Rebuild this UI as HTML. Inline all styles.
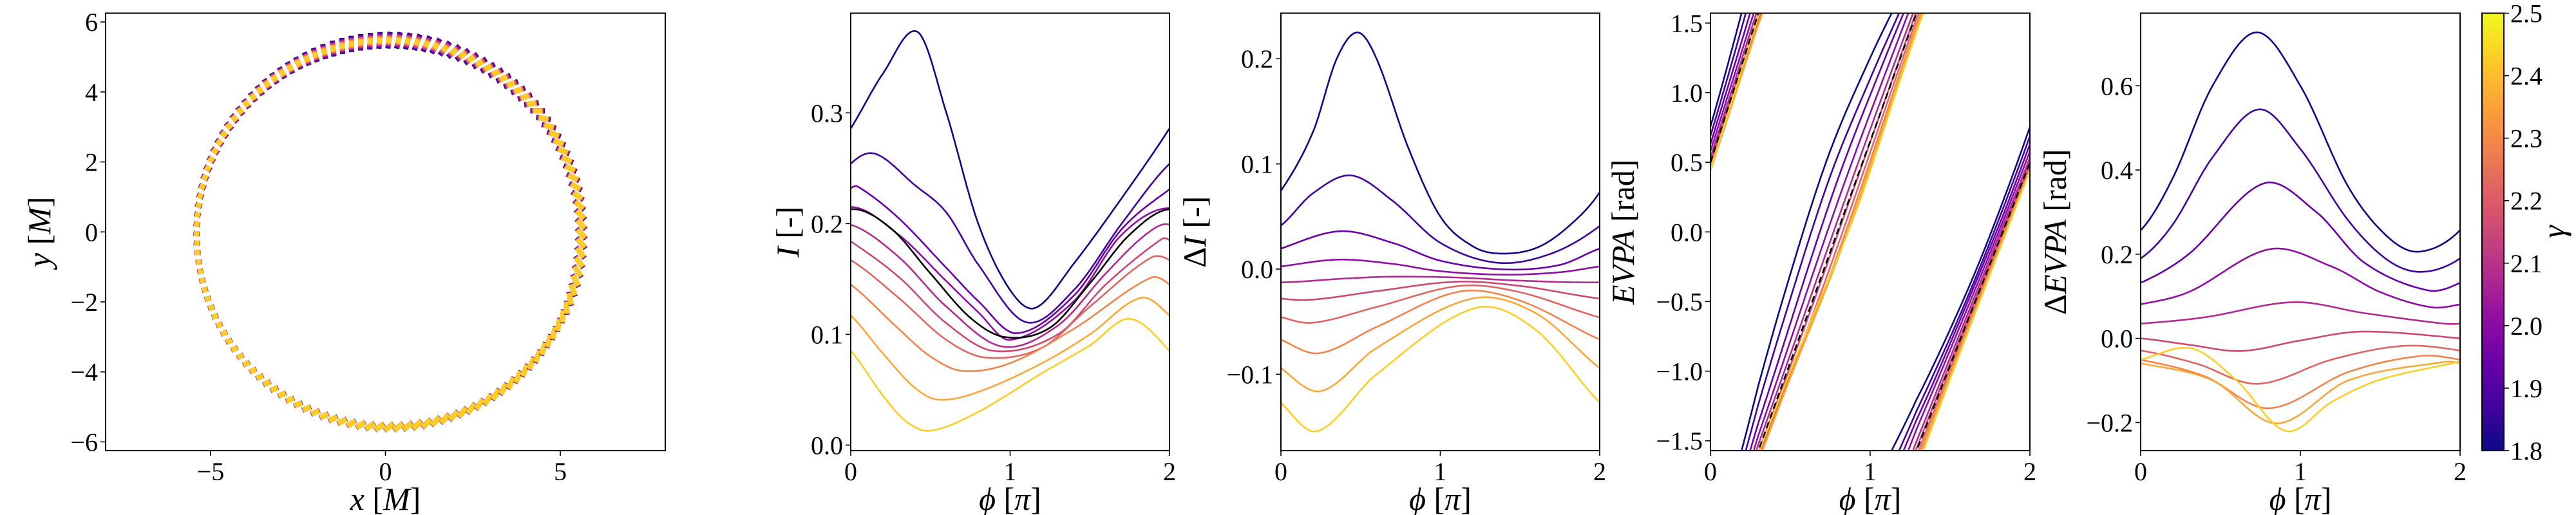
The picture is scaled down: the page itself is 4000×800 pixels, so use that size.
<!DOCTYPE html>
<html><head><meta charset="utf-8"><style>
html,body{margin:0;padding:0;background:#fff;}
svg{display:block;}
text{font-family:"Liberation Serif",serif;fill:#000;}
</style></head>
<body>
<svg id="fig" width="4000" height="800" viewBox="0 0 4000 800" xmlns="http://www.w3.org/2000/svg">
<defs>
<linearGradient id="cbgrad" x1="0" y1="1" x2="0" y2="0">
<stop offset="0" stop-color="#0d0887"/><stop offset="0.1" stop-color="#41049d"/><stop offset="0.2" stop-color="#6a00a8"/><stop offset="0.3" stop-color="#8f0da4"/><stop offset="0.4" stop-color="#b12a90"/><stop offset="0.5" stop-color="#cc4778"/><stop offset="0.6" stop-color="#e16462"/><stop offset="0.7" stop-color="#f2844b"/><stop offset="0.8" stop-color="#fca636"/><stop offset="0.9" stop-color="#fcce25"/><stop offset="1" stop-color="#f0f921"/>
</linearGradient>
</defs>
<g id="root"></g>
</svg>
<script>
// ---------- data ----------
const gammaVals = [1.8,1.87,1.94,2.01,2.08,2.15,2.22,2.29,2.36,2.43];
const cbTicks = [1.8,1.9,2.0,2.1,2.2,2.3,2.4,2.5];

const iPhi = [
 [0,0.2,0.42,0.6,0.8,1.0,1.16,1.4,1.7,2],
 [0,0.155,0.4,0.6,0.8,1.1,1.4,1.7,2],
 [0,0.05,0.3,0.6,0.8,1.04,1.4,1.7,2],
 [0,0.3,0.6,0.8,1.0,1.4,1.7,2],
 [0,0.3,0.6,0.95,1.3,1.6,1.85,2],
 [0,0.3,0.6,0.9,1.3,1.6,1.95,2],
 [0,0.3,0.6,0.85,1.2,1.5,1.88,2],
 [0,0.3,0.5,0.7,1.0,1.4,1.88,2],
 [0,0.2,0.4,0.55,0.8,1.2,1.5,1.82,2],
 [0,0.2,0.35,0.5,0.8,1.2,1.5,1.75,2]
];
const iVal = [
 [0.286,0.335,0.373,0.3,0.2,0.14,0.124,0.164,0.223,0.286],
 [0.254,0.263,0.235,0.21,0.163,0.111,0.14,0.2,0.254],
 [0.232,0.233,0.205,0.16,0.13,0.101,0.135,0.195,0.231],
 [0.215,0.19,0.148,0.12,0.095,0.13,0.19,0.214],
 [0.199,0.17,0.125,0.089,0.108,0.155,0.19,0.199],
 [0.184,0.152,0.11,0.085,0.1,0.145,0.186,0.185],
 [0.167,0.133,0.095,0.079,0.088,0.125,0.169,0.167],
 [0.145,0.105,0.08,0.067,0.074,0.105,0.151,0.145],
 [0.117,0.083,0.052,0.041,0.048,0.074,0.1,0.133,0.117],
 [0.085,0.045,0.021,0.013,0.03,0.065,0.09,0.114,0.085]
];
const iRefPhi = [0,0.25,0.5,0.75,0.97,1.25,1.5,1.75,2];
const iRefVal = [0.213,0.196,0.155,0.115,0.0975,0.106,0.146,0.19,0.213];

const dIPhi = [
 [0,0.2,0.35,0.48,0.6,0.8,1.0,1.2,1.37,1.6,1.8,2],
 [0,0.2,0.44,0.7,1.0,1.36,1.7,2],
 [0,0.37,0.7,1.0,1.4,1.75,2],
 [0,0.36,0.7,1.0,1.4,1.75,2],
 [0,0.4,0.7,1.1,1.5,2],
 [0,0.2,0.6,1.1,1.5,2],
 [0,0.2,0.6,1.12,1.5,2],
 [0,0.24,0.6,1.12,1.5,2],
 [0,0.25,0.6,1.2,1.6,2],
 [0,0.23,0.6,1.22,1.6,2]
];
const dIVal = [
 [0.0745,0.13,0.2,0.225,0.2,0.115,0.05,0.022,0.0148,0.02,0.04,0.073],
 [0.0415,0.072,0.089,0.065,0.025,0.006,0.015,0.041],
 [0.0195,0.036,0.025,0.008,-0.0003,0.004,0.0195],
 [0.0025,0.009,0.005,-0.002,-0.0053,-0.003,0.0025],
 [-0.0126,-0.009,-0.0072,-0.008,-0.011,-0.0126],
 [-0.028,-0.029,-0.021,-0.012,-0.016,-0.028],
 [-0.0456,-0.051,-0.036,-0.016,-0.022,-0.046],
 [-0.067,-0.08,-0.055,-0.0214,-0.03,-0.067],
 [-0.094,-0.116,-0.075,-0.028,-0.042,-0.094],
 [-0.127,-0.154,-0.1,-0.037,-0.058,-0.127]
];

const evpaRefPhi = [0,0.3,1.29,2];
const evpaRefVal = [0.5,1.571,4.712,6.78];

const dEPhi = [
 [0,0.2,0.45,0.728,1.0,1.3,1.55,1.746,2],
 [0,0.2,0.45,0.74,1.0,1.3,1.55,1.76,2],
 [0,0.3,0.77,1.1,1.4,1.8,2],
 [0,0.3,0.81,1.2,1.5,1.82,2],
 [0,0.4,0.96,1.4,1.9,2],
 [0,0.3,0.63,1.0,1.38,2],
 [0,0.35,0.73,1.2,1.64,2],
 [0,0.4,0.8,1.3,1.75,2],
 [0,0.45,0.85,1.3,1.9,2],
 [0,0.32,0.6,0.91,1.2,1.5,2]
];
const dEVal = [
 [0.257,0.38,0.6,0.727,0.6,0.36,0.24,0.206,0.257],
 [0.19,0.27,0.43,0.544,0.45,0.28,0.185,0.158,0.19],
 [0.132,0.2,0.368,0.3,0.18,0.114,0.132],
 [0.081,0.11,0.212,0.17,0.11,0.074,0.081],
 [0.035,0.05,0.086,0.06,0.035,0.035],
 [0.0,-0.015,-0.030,-0.005,0.016,0.0],
 [-0.029,-0.06,-0.108,-0.05,-0.018,-0.029],
 [-0.051,-0.09,-0.166,-0.08,-0.042,-0.051],
 [-0.059,-0.1,-0.202,-0.1,-0.056,-0.059],
 [-0.051,-0.024,-0.1,-0.22,-0.15,-0.098,-0.055]
];

// polarization ticks: position angle (deg) -> tick orientation (deg), dark length, yellow length (M units)
const polPosDeg = [-90,-66,-37,-27,-12,-2,6,14,30,36,45,55,69,77.5,92,106,118,139,150,176,191,219,243,270];
const polAngDeg = [37,51,72,80,122,130,135,150,160,169,198,203,221,244,265,275,295,305,320,345,370,385,381,397];
const polLenDark= [0.33,0.36,0.4,0.4,0.4,0.4,0.39,0.4,0.41,0.42,0.42,0.44,0.46,0.48,0.48,0.46,0.38,0.28,0.25,0.18,0.17,0.2,0.26,0.33];
const polLenYel = [0.3,0.32,0.33,0.33,0.31,0.3,0.28,0.27,0.26,0.25,0.22,0.19,0.17,0.15,0.15,0.15,0.16,0.16,0.15,0.14,0.14,0.17,0.22,0.3];
const ringR = 5.5, ringCx = 0.1, ringCy = -0.05, nTicks = 128;

// ---------- helpers ----------
const NS="http://www.w3.org/2000/svg";
const root=document.getElementById('root');
function el(tag,attrs,parent){const e=document.createElementNS(NS,tag);for(const k in attrs)e.setAttribute(k,attrs[k]);(parent||root).appendChild(e);return e;}
const plasma=['#0d0887','#41049d','#6a00a8','#8f0da4','#b12a90','#cc4778','#e16462','#f2844b','#fca636','#fcce25','#f0f921'];
function hex(c){return [parseInt(c.substr(1,2),16),parseInt(c.substr(3,2),16),parseInt(c.substr(5,2),16)];}
function cmap(t){t=Math.max(0,Math.min(1,t));const f=t*10,i=Math.min(9,Math.floor(f)),r=f-i;const a=hex(plasma[i]),b=hex(plasma[i+1]);return 'rgb('+a.map((v,k)=>Math.round(v+(b[k]-v)*r)).join(',')+')';}
function gcol(g){return cmap((g-1.8)/0.7);}
// Catmull-Rom Hermite spline with periodic end tangents (period 2)
function spline(xs,ys){
 const n=xs.length,t=new Array(n);
 for(let i=1;i<n-1;i++)t[i]=(ys[i+1]-ys[i-1])/(xs[i+1]-xs[i-1]);
 const te=(ys[1]-ys[n-2])/((xs[1]-xs[0])+(xs[n-1]-xs[n-2]));
 t[0]=te;t[n-1]=te;
 return x=>{let j=0;while(j<n-2&&x>xs[j+1])j++;const h=xs[j+1]-xs[j],s=(x-xs[j])/h,s2=s*s,s3=s2*s;
  return (2*s3-3*s2+1)*ys[j]+(s3-2*s2+s)*h*t[j]+(-2*s3+3*s2)*ys[j+1]+(s3-s2)*h*t[j+1];};
}
function lin(xs,ys){return x=>{let j=0;while(j<xs.length-2&&x>xs[j+1])j++;return ys[j]+(ys[j+1]-ys[j])*(x-xs[j])/(xs[j+1]-xs[j]);};}
function fmt(v,dec){let s=Math.abs(v).toFixed(dec);return (v<-1e-9?'\u2212':'')+s;}

let clipId=0;
function panel(name,x0,x1,y0,y1,xmin,xmax,ymin,ymax){
 const g=el('g',{});
 
 
 const id='clip'+(clipId++);
 const cp=el('clipPath',{id:id},g);el('rect',{x:x0,y:y0,width:x1-x0,height:y1-y0},cp);
 const X=v=>x0+(v-xmin)/(xmax-xmin)*(x1-x0);
 const Y=v=>y1-(v-ymin)/(ymax-ymin)*(y1-y0);
 const plot=el('g',{'clip-path':'url(#'+id+')'},g);
 
 
 return {g,plot,X,Y,x0,x1,y0,y1};
}
function frame(p){const r=el('rect',{x:p.x0,y:p.y0,width:p.x1-p.x0,height:p.y1-p.y0,fill:'none',stroke:'#000','stroke-width':2},p.g);}
function xticks(p,vals,labels){vals.forEach((v,i)=>{const x=p.X(v);el('line',{x1:x,x2:x,y1:p.y1,y2:p.y1+8,stroke:'#000','stroke-width':1.6},p.g);const t=el('text',{x:x,y:p.y1+46,'font-size':40,'text-anchor':'middle'},p.g);t.textContent=labels[i];});}
function yticks(p,vals,labels){vals.forEach((v,i)=>{const y=p.Y(v);el('line',{x1:p.x0-8,x2:p.x0,y1:y,y2:y,stroke:'#000','stroke-width':1.6},p.g);const t=el('text',{x:p.x0-12,y:y+14,'font-size':40,'text-anchor':'end'},p.g);t.textContent=labels[i];});}
function xlabel(p,html,name){const t=el('text',{x:(p.x0+p.x1)/2,y:p.y1+92,'font-size':50,'text-anchor':'middle'},p.g);t.innerHTML=html;}
function ylabel(p,x,html,name){const cy=(p.y0+p.y1)/2;const t=el('text',{x:x,y:cy,'font-size':50,'text-anchor':'middle',transform:'rotate(-90 '+x+' '+cy+')'},p.g);t.innerHTML=html;}
function curve(p,f,color,name,dash){let d='';for(let k=0;k<=300;k++){const ph=2*k/300;d+=(k?'L':'M')+p.X(ph).toFixed(1)+','+p.Y(f(ph)).toFixed(1);}
 const a={d:d,fill:'none',stroke:color,'stroke-width':2.6};if(dash){a['stroke-dasharray']=dash;}const e=el('path',a,p.plot);}
const PHI='<tspan font-style="italic">\u03d5</tspan> [<tspan font-style="italic">\u03c0</tspan>]';

// ---------- panel 1: polarization map ----------
const p1=panel('polarization-map',164,1033,20.5,700,-8,8,-6.25,6.25);
const angF=lin(polPosDeg,polAngDeg), lenDF=lin(polPosDeg,polLenDark), lenYF=lin(polPosDeg,polLenYel);
for(let k=0;k<nTicks;k++){
 const a=-90+360*k/nTicks, ar=a*Math.PI/180;
 const cx=ringCx+ringR*Math.cos(ar), cy=ringCy+ringR*Math.sin(ar)*1.005;
 const th=angF(a)*Math.PI/180, Ld=lenDF(a), Ly=lenYF(a);
 const tg=el('g',{},p1.plot);
 
 
 gammaVals.forEach((g,i)=>{const l=(Ld+(Ly-Ld)*i/(gammaVals.length-1))/2;
  el('line',{x1:p1.X(cx-l*Math.cos(th)),y1:p1.Y(cy-l*Math.sin(th)),x2:p1.X(cx+l*Math.cos(th)),y2:p1.Y(cy+l*Math.sin(th)),stroke:gcol(g),'stroke-width':8},tg);});
}
frame(p1);
xticks(p1,[-5,0,5],['\u22125','0','5']);
yticks(p1,[-6,-4,-2,0,2,4,6],['\u22126','\u22124','\u22122','0','2','4','6']);
xlabel(p1,'<tspan font-style="italic">x</tspan> [<tspan font-style="italic">M</tspan>]','x-axis-title');
ylabel(p1,78,'<tspan font-style="italic">y</tspan> [<tspan font-style="italic">M</tspan>]','y-axis-title');

// ---------- panel 2: I ----------
const p2=panel('intensity-panel',1321,1816,20.5,700,0,2,-0.005,0.39);
iPhi.forEach((ph,i)=>curve(p2,spline(ph,iVal[i]),gcol(gammaVals[i]),'intensity-curve'));
curve(p2,spline(iRefPhi,iRefVal),'#000','intensity-reference-curve');
frame(p2);
xticks(p2,[0,1,2],['0','1','2']);
yticks(p2,[0,0.1,0.2,0.3],[0,0.1,0.2,0.3].map(v=>fmt(v,1)));
xlabel(p2,PHI,'x-axis-title');
ylabel(p2,1240,'<tspan font-style="italic">I</tspan> [-]','y-axis-title');

// ---------- panel 3: dI ----------
const p3=panel('delta-intensity-panel',1989,2484,20.5,700,0,2,-0.1726,0.2433);
dIPhi.forEach((ph,i)=>curve(p3,spline(ph,dIVal[i]),gcol(gammaVals[i]),'delta-intensity-curve'));
frame(p3);
xticks(p3,[0,1,2],['0','1','2']);
yticks(p3,[-0.1,0,0.1,0.2],[-0.1,0,0.1,0.2].map(v=>fmt(v,1)));
xlabel(p3,PHI,'x-axis-title');
ylabel(p3,1872,'\u0394<tspan font-style="italic">I</tspan> [-]','y-axis-title');

// ---------- panel 4: EVPA ----------
const p4=panel('evpa-panel',2656,3152,20.5,700,0,2,-Math.PI/2,Math.PI/2);
const refF=lin(evpaRefPhi,evpaRefVal);
function wrapCurve(p,f,color,name,dash){let d='',prev=null;for(let k=0;k<=600;k++){const ph=2*k/600;let v=f(ph);v=v-Math.PI*Math.round(v/Math.PI);
 if(prev!==null&&Math.abs(v-prev)>Math.PI/2){const up=v<prev;d+='L'+p.X(ph).toFixed(1)+','+p.Y(up?Math.PI/2+0.05:-Math.PI/2-0.05).toFixed(1);d+='M'+p.X(ph).toFixed(1)+','+p.Y(up?-Math.PI/2-0.05:Math.PI/2+0.05).toFixed(1);}
 d+=(d?'L':'M')+p.X(ph).toFixed(1)+','+p.Y(v).toFixed(1);prev=v;}
 const a={d:d,fill:'none',stroke:color,'stroke-width':2.6};if(dash)a['stroke-dasharray']=dash;const e=el('path',a,p.plot);}
dEPhi.forEach((ph,i)=>{const s=spline(ph,dEVal[i]);wrapCurve(p4,x=>refF(x)+s(x),gcol(gammaVals[i]),'evpa-curve');});
wrapCurve(p4,refF,'#000','evpa-reference-curve','10,6');
frame(p4);
xticks(p4,[0,1,2],['0','1','2']);
yticks(p4,[-1.5,-1,-0.5,0,0.5,1,1.5],[-1.5,-1,-0.5,0,0.5,1,1.5].map(v=>fmt(v,1)));
xlabel(p4,PHI,'x-axis-title');
ylabel(p4,2537,'<tspan font-style="italic">EVPA</tspan> [rad]','y-axis-title');

// ---------- panel 5: dEVPA ----------
const p5=panel('delta-evpa-panel',3324,3820,20.5,700,0,2,-0.2667,0.7725);
dEPhi.forEach((ph,i)=>curve(p5,spline(ph,dEVal[i]),gcol(gammaVals[i]),'delta-evpa-curve'));
frame(p5);
xticks(p5,[0,1,2],['0','1','2']);
yticks(p5,[-0.2,0,0.2,0.4,0.6],[-0.2,0,0.2,0.4,0.6].map(v=>fmt(v,1)));
xlabel(p5,PHI,'x-axis-title');
ylabel(p5,3208,'\u0394<tspan font-style="italic">EVPA</tspan> [rad]','y-axis-title');

// ---------- colorbar ----------
const cb=el('g',{});


el('rect',{x:3854,y:20.5,width:34,height:679.5,fill:'url(#cbgrad)',stroke:'#000','stroke-width':2},cb);
cbTicks.forEach(v=>{const y=700-(v-1.8)/0.7*679.5;el('line',{x1:3888,x2:3896,y1:y,y2:y,stroke:'#000','stroke-width':1.6},cb);
 const t=el('text',{x:3898,y:y+14,'font-size':40},cb);t.textContent=v.toFixed(1);});
const gl=el('text',{x:3982,y:360,'font-size':50,'font-style':'italic','text-anchor':'middle',transform:'rotate(-90 3982 360)'},cb);
gl.textContent='\u03b3';


</script>
</body></html>
